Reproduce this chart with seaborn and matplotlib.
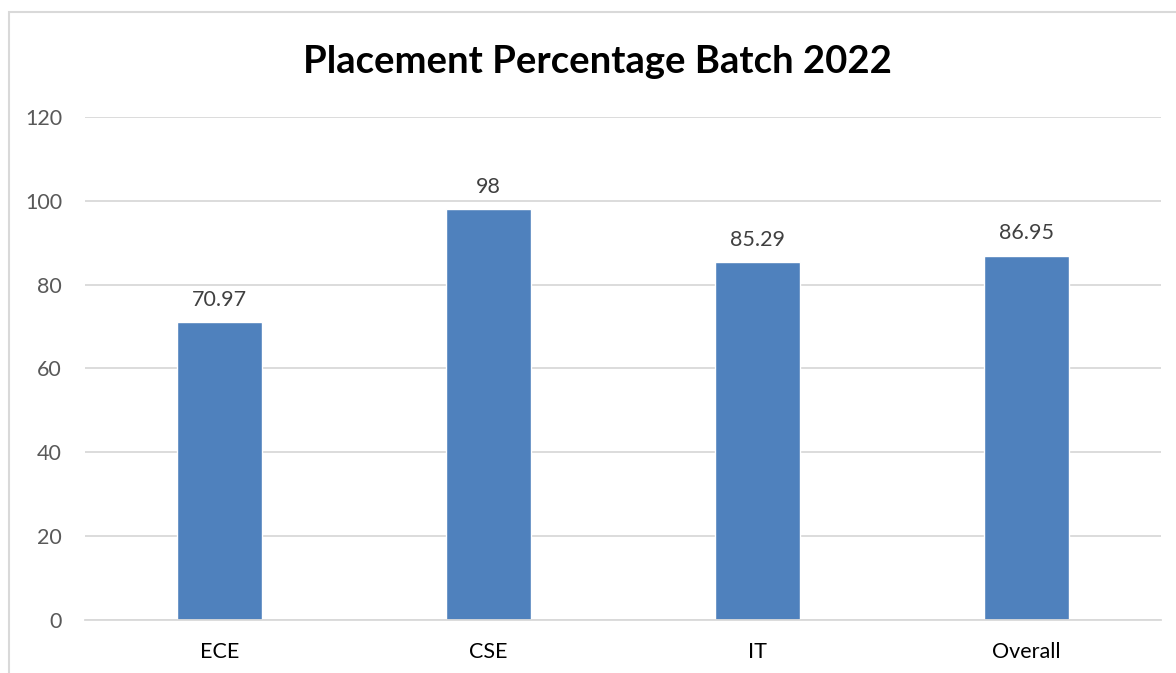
import numpy as np
import pandas as pd
import matplotlib
matplotlib.use('Agg')
import matplotlib.pyplot as plt
import seaborn as sns
from matplotlib.patches import Rectangle

branches = ['ECE', 'CSE', 'IT', 'Overall']
placement = [70.97, 98, 85.29, 86.95]
value_labels = ['70.97', '98', '85.29', '86.95']

df = pd.DataFrame({'branch': branches, 'pct': placement})

sns.set_theme(style='white')
plt.rcParams['font.family'] = ['Lato', 'DejaVu Sans']

fig = plt.figure(figsize=(11.76, 6.73), dpi=100)
ax = fig.add_axes([0.0723, 0.0788, 0.9147, 0.7474])

sns.barplot(data=df, x='branch', y='pct', color='#4F81BD', saturation=1,
            width=0.316, ax=ax)

ax.set_ylim(0, 120)
ax.set_yticks(np.arange(0, 121, 20))
ax.yaxis.grid(True, color='#D9D9D9', linewidth=1.3)
ax.set_axisbelow(True)
for s in ['top', 'right', 'left']:
    ax.spines[s].set_visible(False)
ax.spines['bottom'].set_color('#D9D9D9')
ax.spines['bottom'].set_linewidth(1.3)
ax.set_xlabel('')
ax.set_ylabel('')
ax.tick_params(axis='y', labelsize=15.5, colors='#595959', length=0, pad=16.5)
ax.tick_params(axis='x', labelsize=15.5, colors='#000000', length=0, pad=16)

for p, lab in zip(ax.patches, value_labels):
    ax.annotate(lab, (p.get_x() + p.get_width() / 2, p.get_height()),
                xytext=(0, 9), textcoords='offset points',
                ha='center', va='bottom', fontsize=15.5, color='#404040')

fig.text(0.508, 0.908, 'Placement Percentage Batch 2022', ha='center',
         va='center', fontsize=27.5, fontweight='bold', color='#000000')

fig.patches.append(Rectangle((9 / 1176, -0.1), 1.2, 1.1 - 12 / 673,
                             transform=fig.transFigure, fill=False,
                             edgecolor='#D9D9D9', linewidth=1.5))

fig.savefig('out.png', dpi=100)
